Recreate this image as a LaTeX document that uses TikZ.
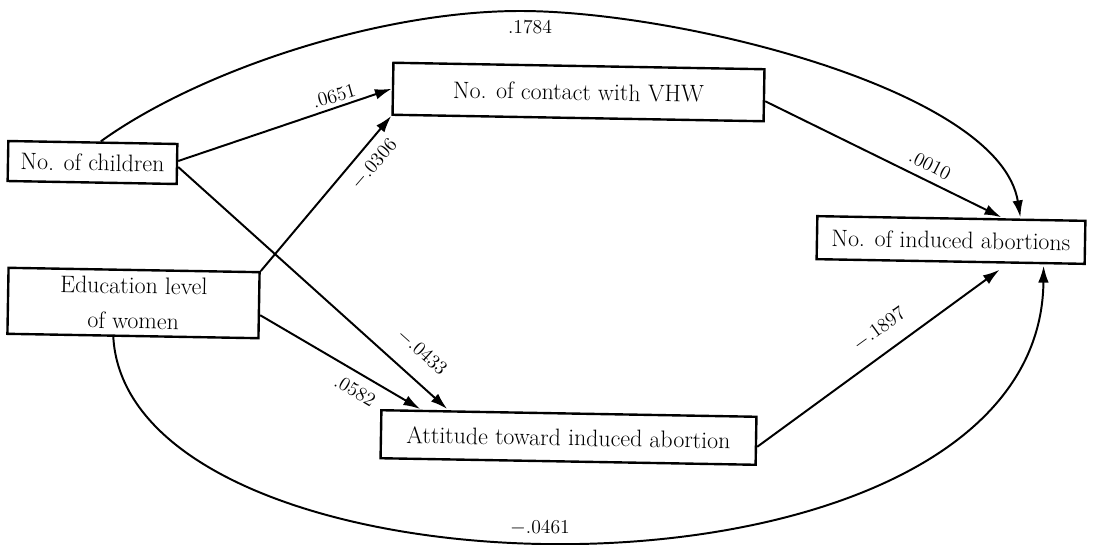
\documentclass[tikz,border=0pt]{standalone}
\usetikzlibrary{arrows.meta,calc}
\begin{document}
\begin{tikzpicture}[x=0.025cm,y=-0.025cm,
  box/.style={draw,line width=1.7pt,inner sep=0pt,rotate=-1,font=\fontsize{17}{21}\selectfont,align=center},
  lbl/.style={font=\fontsize{14}{16}\selectfont,inner sep=1pt},
  link/.style={line width=1.4pt,-{Latex[length=12pt,width=7.5pt]}}]
\useasboundingbox (0,0) rectangle (1098,545);
\node[box,minimum width=4.225cm,minimum height=1.0cm] (ch) at (92.5,162.5) {No. of children};
\node[box,minimum width=6.275cm,minimum height=1.65cm] (edu) at (133.5,303) {Education level\\[4pt]of women};
\node[box,minimum width=9.275cm,minimum height=1.3cm] (vhw) at (578.5,92) {No. of contact with VHW};
\node[box,minimum width=6.7cm,minimum height=1.075cm] (ind) at (951,240) {No. of induced abortions};
\node[box,minimum width=9.375cm,minimum height=1.2cm] (att) at (568.5,437.5) {Attitude toward induced abortion};
% straight paths
\draw[link] ($(ch.east)+(0,-3)$) -- (vhw.west);
\draw[link] (edu.north east) -- (vhw.south west);
\draw[link] ($(ch.east)+(0,3)$) -- ($(att.north west)+(67,0)$);
\draw[link] ($(edu.east)+(0,10)$) -- ($(att.north west)+(40,0)$);
\draw[link] ($(vhw.east)+(0,6)$) -- ($(ind.north)+(50,0)$);
\draw[link] ($(att.east)+(0,6)$) -- ($(ind.south)+(49,7)$);
% curved paths
\draw[link] ($(ch.north)+(8,0)$) .. controls (200,70) and (380,11) .. (520,11)
  .. controls (680,11) and (1000,90) .. ($(ind.north)+(69,0)$);
\draw[link] ($(edu.south west)+(107,0)$) .. controls (125,615) and (1040,630) .. ($(ind.south)+(93,3)$);
% labels
\node[lbl] (l1) at (530,27) {.1784};
\node[lbl,rotate=16] (l2) at (334,96) {.0651};
\node[lbl,rotate=49] (l3) at (374,164) {$-$.0306};
\node[lbl,rotate=-42] (l4) at (422,352) {$-$.0433};
\node[lbl,rotate=-31] (l5) at (355,391) {.0582};
\node[lbl,rotate=-27] (l6) at (930,165) {.0010};
\node[lbl,rotate=36] (l7) at (879,329) {$-$.1897};
\node[lbl] (l8) at (540,528) {$-$.0461};
\end{tikzpicture}
\end{document}
